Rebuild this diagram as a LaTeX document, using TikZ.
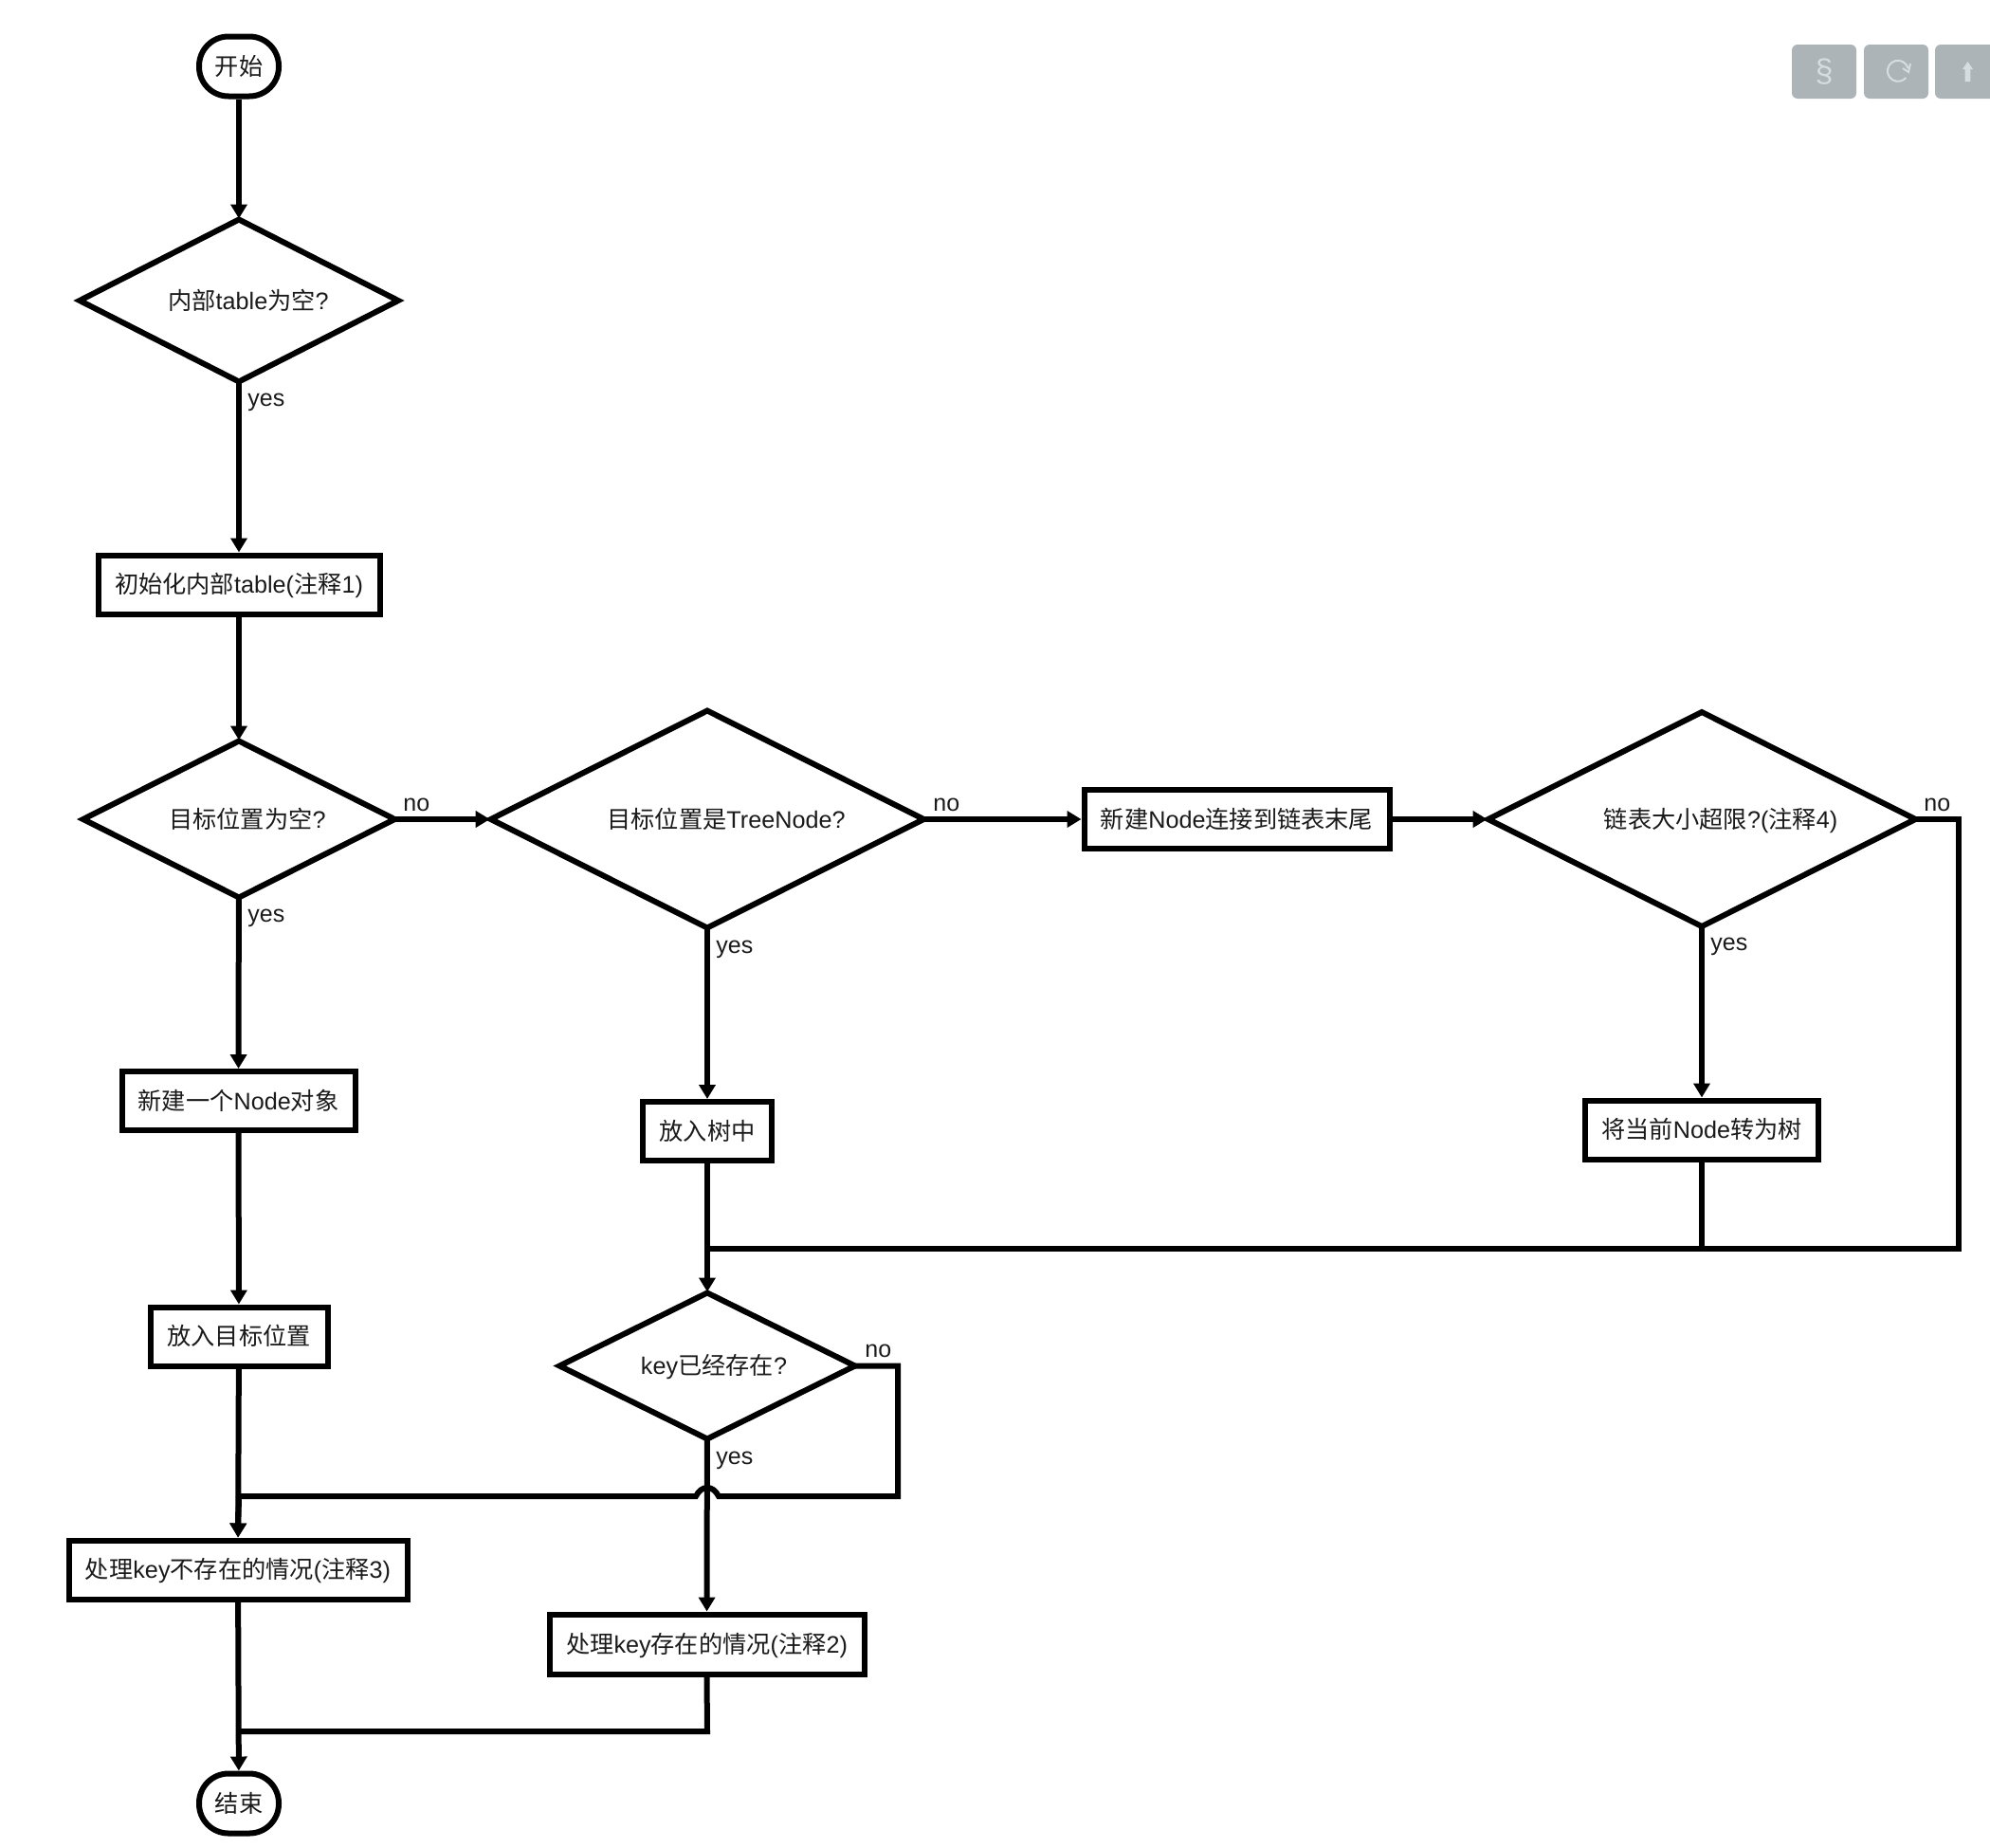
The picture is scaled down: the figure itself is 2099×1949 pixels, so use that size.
\documentclass[tikz,border=0pt]{standalone}
\usepackage{fontspec}
\setmainfont{Liberation Sans}
\newfontfamily\cjk{Noto Sans CJK SC}
\newcommand{\zh}[1]{{\cjk #1}}
\usetikzlibrary{shapes.geometric,arrows.meta}
\definecolor{ink}{HTML}{1A1A1A}
\definecolor{btn}{HTML}{ADB4B7}
\definecolor{btnglyph}{HTML}{D5DDE0}
\tikzset{
  base/.style={draw=black,line width=3pt,fill=white,text=ink,font=\fontsize{12.6pt}{15pt}\selectfont,inner sep=0pt,text height=11pt,text depth=2pt},
  terminal/.style={base,rectangle,rounded corners=15.5pt,minimum width=42pt,minimum height=31.5pt},
  procbox/.style 2 args={base,rectangle,minimum width=#1*0.5pt-1.5pt,minimum height=#2*0.5pt-1.5pt},
  dia/.style 2 args={base,diamond,aspect=2,outer sep=0pt,minimum width=#1*0.5pt,minimum height=#2*0.5pt},
  conn/.style={draw=black,line width=3pt,-{Triangle[width=8.5pt,length=7.5pt]}},
  intotop/.style={conn,shorten >=0.5pt},
  intoleft/.style={conn,shorten >=0.5pt},
  plain/.style={draw=black,line width=3pt,line join=miter},
  lab/.style={text=ink,font=\fontsize{12.5pt}{15pt}\selectfont,inner sep=0pt,anchor=base west},
  button/.style={fill=btn,draw=none,rounded corners=3pt,rectangle,minimum width=34pt,minimum height=28.5pt}
}
\begin{document}
\begin{tikzpicture}[x=0.5pt,y=-0.5pt]
\useasboundingbox (0,0) rectangle (2099,1949);
% buttons
\node[button,text=btnglyph,font=\fontsize{17pt}{20pt}\selectfont] (bs) at (1924,75.5) {§};
\node[button] (br) at (2000,75.5) {};
\node[button] (bu) at (2075,75.5) {};
\draw[btnglyph,line width=1pt] (2012.5,72) arc[start angle=-15,end angle=-320,radius=11];
\draw[btnglyph,line width=1pt] (2007,72) -- (2013,76) -- (2015,67);
\fill[btnglyph] (2075.5,65) -- (2081,73) -- (2078.3,73) -- (2078.3,86) -- (2072.7,86) -- (2072.7,73) -- (2070,73) -- cycle;
% nodes
\node[terminal] (start) at (252,70) {\zh{开始}};
\node[dia={336}{171}] (d1) at (252,317) {\hspace{10pt}\zh{内部}table\zh{为空}?};
\node[procbox={300}{65}] (p1) at (252,616.5) {\zh{初始化内部}table(\zh{注释}1)};
\node[dia={328.6}{165}] (d2) at (252,864) {\hspace{9pt}\zh{目标位置为空}?};
\node[dia={456.6}{229}] (d3) at (746,864) {\hspace{20pt}\zh{目标位置是}TreeNode?};
\node[procbox={325}{65}] (p2) at (1304.5,864) {\zh{新建}Node\zh{连接到链表末尾}};
\node[dia={450.6}{226}] (d4) at (1795,864) {\hspace{20pt}\zh{链表大小超限}?(\zh{注释}4)};
\node[procbox={249}{65}] (p3) at (251.5,1161) {\zh{新建一个}Node\zh{对象}};
\node[procbox={139}{65}] (p4) at (746,1193) {\zh{放入树中}};
\node[procbox={249}{65}] (p5) at (1795,1191.5) {\zh{将当前}Node\zh{转为树}};
\node[procbox={190}{65}] (p6) at (252,1409.5) {\zh{放入目标位置}};
\node[dia={311.6}{154}] (d5) at (746,1440.5) {\hspace{7pt}key\zh{已经存在}?};
\node[procbox={360}{65}] (p7) at (251,1655.5) {\zh{处理}key\zh{不存在的情况}(\zh{注释}3)};
\node[procbox={335}{66}] (p8) at (745.5,1734) {\zh{处理}key\zh{存在的情况}(\zh{注释}2)};
\node[terminal] (end) at (252,1902) {\zh{结束}};
% free corners
\coordinate (c4a) at (2066,864);
\coordinate (c4b) at (2066,1317);
\coordinate (c4m) at (1795,1317);
\coordinate (c4c) at (746,1317);
\coordinate (c5a) at (947,1440.5);
\coordinate (c5b) at (947,1578);
\coordinate (jr) at (758,1578);
\coordinate (jl) at (734,1578);
\coordinate (jtr) at (752,1566);
\coordinate (jtl) at (740,1566);
\coordinate (c5c) at (252,1578);
\coordinate (c8a) at (746,1826);
\coordinate (c8b) at (252,1826);
% connectors
\draw[intotop] (start) -- (d1);
\draw[conn] (d1) -- (p1);
\draw[intotop] (p1) -- (d2);
\draw[conn] (d2) -- (p3);
\draw[intoleft] (d2) -- (d3);
\draw[conn] (d3) -- (p2);
\draw[intoleft] (p2) -- (d4);
\draw[conn] (d3) -- (p4);
\draw[conn] (d4) -- (p5);
\draw[conn] (p3) -- (p6);
\draw[intotop] (p4) -- (d5);
\draw[plain] (d4.east) -- (c4a) -- (c4b) -- (c4c);
\draw[plain] (p5.south) -- (c4m);
\draw[conn] (p6) -- (p7);
\draw[plain] (d5.east) -- (c5a) -- (c5b) -- (jr) .. controls (jtr) and (jtl) .. (jl) -- (c5c);
\draw[conn] (c5c) -- (p7.north);
\draw[conn] (d5) -- (p8);
\draw[conn] (p7) -- (end);
\draw[plain] (p8.south) -- (c8a) -- (c8b);
% labels
\node[lab] (l1) at (261,428) {yes};
\node[lab] (l2) at (261,972.5) {yes};
\node[lab] (l3) at (425,855) {no};
\node[lab] (l4) at (984,855) {no};
\node[lab] (l5) at (755,1005) {yes};
\node[lab] (l6) at (1804,1002) {yes};
\node[lab] (l7) at (2029,855) {no};
\node[lab] (l8) at (912,1431) {no};
\node[lab] (l9) at (755,1544) {yes};
\end{tikzpicture}
\end{document}
